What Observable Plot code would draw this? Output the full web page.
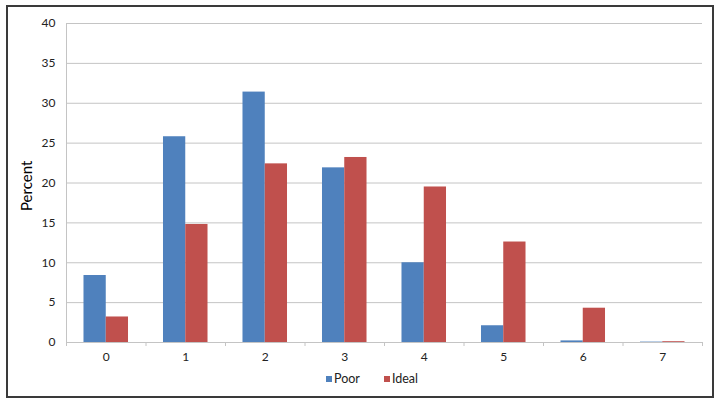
<!DOCTYPE html>
<html><head><meta charset="utf-8">
<script src="https://cdn.jsdelivr.net/npm/d3@7"></script>
<script src="https://cdn.jsdelivr.net/npm/@observablehq/plot@0.6"></script>
<style>
body{margin:0;background:#fff;font-family:Lato,"Open Sans",sans-serif;}
#frame{position:absolute;left:6px;top:5px;width:704px;height:389px;border:2px solid #3a3a3a;pointer-events:none;}
#chart{position:absolute;left:0;top:0;}
#legend{position:absolute;top:371px;left:326px;font-size:12.5px;color:#222;display:flex;align-items:center;white-space:nowrap;}
#legend .sw{display:inline-block;width:6px;height:6px;margin-right:2px;}
#legend .item{display:flex;align-items:center;margin-right:24px;}
</style>
</head><body>
<div id="chart"></div>
<div id="legend"></div>
<div id="frame"></div>
<script>
const categories = [0, 1, 2, 3, 4, 5, 6, 7];
const poor  = [8.4, 25.8, 31.4, 21.9, 10.0, 2.1, 0.2, 0.05];
const ideal = [3.2, 14.8, 22.4, 23.2, 19.5, 12.6, 4.3, 0.1];
const series = ["Poor", "Ideal"];
const colors = ["#4F81BD", "#C0504D"];
const yTicks = [0, 5, 10, 15, 20, 25, 30, 35, 40];

const rows = [];
categories.forEach((c, i) => {
  rows.push({cat: c, series: "Poor", value: poor[i]});
  rows.push({cat: c, series: "Ideal", value: ideal[i]});
});
const half = 0.28;
const bounds = categories.map(c => c - 0.5).concat([categories[categories.length - 1] + 0.5]);

const chart = Plot.plot({
  width: 721,
  height: 368,
  marginLeft: 66,
  marginRight: 19,
  marginTop: 23,
  marginBottom: 26,
  style: {fontFamily: "Lato, 'Open Sans', sans-serif", fontSize: "12px", color: "#222", background: "white"},
  x: {domain: [bounds[0], bounds[bounds.length - 1]], axis: null},
  y: {domain: [0, 40], axis: null},
  color: {domain: series, range: colors},
  marks: [
    Plot.gridY(yTicks, {stroke: "#c4c4c4", strokeOpacity: 1}),
    Plot.rectY(rows, {
      x1: d => d.series === "Poor" ? d.cat - half : d.cat,
      x2: d => d.series === "Poor" ? d.cat : d.cat + half,
      y: "value",
      fill: "series"
    }),
    Plot.ruleX([bounds[0]], {stroke: "#c4c4c4"}),
    Plot.ruleY([0], {stroke: "#c4c4c4"}),
    Plot.axisX(bounds, {tickSize: 4, tickFormat: () => "", stroke: "#c4c4c4"}),
    Plot.axisX(categories, {tickSize: 0, tickPadding: 10, fontSize: 12, fill: "#222"}),
    Plot.axisY(yTicks, {tickSize: 0, tickPadding: 11, fontSize: 12, fill: "#222", label: null}),
    Plot.text(["Percent"], {frameAnchor: "left", rotate: -90, dx: -39, dy: 28, fontSize: 15, fill: "#000"})
  ]
});
document.getElementById("chart").appendChild(chart);

const legend = document.getElementById("legend");
series.forEach((s, i) => {
  const item = document.createElement("span");
  item.className = "item";
  const sw = document.createElement("span");
  sw.className = "sw";
  sw.style.background = colors[i];
  item.appendChild(sw);
  item.appendChild(document.createTextNode(s));
  legend.appendChild(item);
});
</script>
</body></html>
